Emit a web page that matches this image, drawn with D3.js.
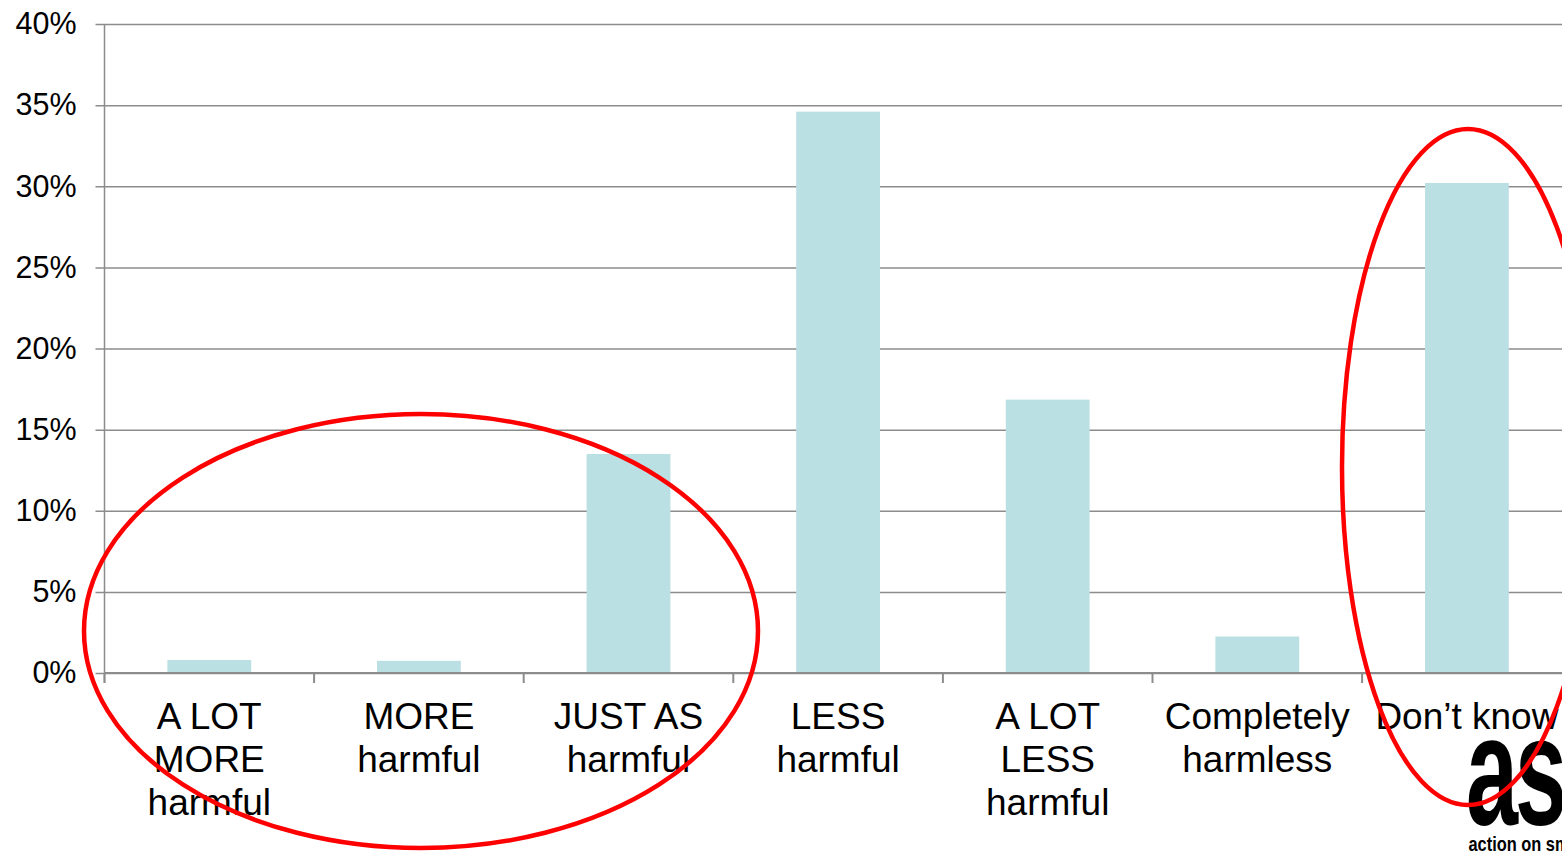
<!DOCTYPE html>
<html>
<head>
<meta charset="utf-8">
<script src="https://cdn.jsdelivr.net/npm/d3@7"></script>
<style>
  body { margin: 0; background: #fff; overflow: hidden; }
  text { font-family: "Liberation Sans", Arial, sans-serif; }
</style>
</head>
<body>
<div id="container"></div>
<script>
/* DATA */
const categories = [
  ["A LOT", "MORE", "harmful"],
  ["MORE", "harmful"],
  ["JUST AS", "harmful"],
  ["LESS", "harmful"],
  ["A LOT", "LESS", "harmful"],
  ["Completely", "harmless"],
  ["Don\u2019t know"]
]
const values = [0.8, 0.75, 13.5, 34.6, 16.85, 2.25, 30.2]
const yTicks = [0, 5, 10, 15, 20, 25, 30, 35, 40]

/* CONSTANTS */
const width = 1562,
  height = 853,
  margin = { top: 24, bottom: 180, left: 104.5, right: 0 },
  bandW = 209.6,
  gridColor = "#8c8c8c",
  barColor = "#bbe0e3"

const svg = d3.select("#container")
  .append("svg")
  .attr("width", width)
  .attr("height", height)

// scales
const xScale = d3.scaleBand()
  .domain(d3.range(categories.length))
  .range([margin.left, margin.left + bandW * categories.length])
  .paddingInner(0.6)
  .paddingOuter(0.3)

const yScale = d3.scaleLinear()
  .domain([0, 40])
  .range([673, margin.top])

// gridlines + y axis
const yAxis = d3.axisLeft(yScale)
  .tickValues(yTicks)
  .tickFormat(d => d + "%")
  .tickSize(-(width - margin.left))
  .tickSizeOuter(0)
  .tickPadding(28)

const gy = svg.append("g")
  .attr("transform", `translate(${margin.left},0)`)
  .call(yAxis)
gy.select(".domain").remove()
gy.selectAll(".tick line")
  .attr("x1", -9)
  .attr("stroke", gridColor)
  .attr("stroke-width", 1.5)
gy.selectAll(".tick text")
  .attr("font-size", 30.5)
  .attr("fill", "#000")
  .attr("font-family", "Liberation Sans, Arial, sans-serif")

svg.append("line")
  .attr("x1", margin.left).attr("x2", margin.left)
  .attr("y1", yScale(40)).attr("y2", yScale(0) + 10)
  .attr("stroke", gridColor)
  .attr("stroke-width", 1.5)

// bars
svg.selectAll(".bar")
  .data(values)
  .join("rect")
  .attr("class", "bar")
  .attr("x", (d, i) => xScale(i))
  .attr("width", xScale.bandwidth())
  .attr("y", d => yScale(d))
  .attr("height", d => yScale(0) - yScale(d))
  .attr("fill", barColor)

// x axis line + ticks between categories
svg.append("line")
  .attr("x1", margin.left).attr("x2", width)
  .attr("y1", yScale(0)).attr("y2", yScale(0))
  .attr("stroke", gridColor)
  .attr("stroke-width", 2)

svg.selectAll(".xtick")
  .data(d3.range(categories.length + 1))
  .join("line")
  .attr("class", "xtick")
  .attr("x1", i => margin.left + i * bandW)
  .attr("x2", i => margin.left + i * bandW)
  .attr("y1", yScale(0))
  .attr("y2", yScale(0) + 10)
  .attr("stroke", gridColor)
  .attr("stroke-width", 2)

// category labels
const labels = svg.selectAll(".cat")
  .data(categories)
  .join("text")
  .attr("class", "cat")
  .attr("text-anchor", "middle")
  .attr("font-size", 37)
  .attr("fill", "#000")
  .attr("x", (d, i) => xScale(i) + xScale.bandwidth() / 2)
  .attr("y", 729)

labels.selectAll("tspan")
  .data(d => d)
  .join("tspan")
  .attr("x", function() { return d3.select(this.parentNode).attr("x") })
  .attr("dy", (d, i) => i === 0 ? 0 : 43)
  .text(d => d)

// logo
const logo = svg.append("g").attr("transform", "translate(1466,0)")
logo.append("text")
  .attr("x", 0).attr("y", 824)
  .attr("font-family", "DejaVu Sans Condensed, DejaVu Sans, sans-serif")
  .attr("font-weight", "bold")
  .attr("font-size", 156)
  .attr("transform", "scale(0.6,1)")
  .attr("fill", "#000")
  .attr("letter-spacing", -5)
  .text("as")
logo.append("text")
  .attr("x", 3).attr("y", 851)
  .attr("font-family", "DejaVu Sans Condensed, DejaVu Sans, sans-serif")
  .attr("font-weight", "bold")
  .attr("font-size", 20)
  .attr("transform", "scale(0.82,1)")
  .attr("fill", "#000")
  .text("action on smoking")

// red highlight ellipses
svg.append("ellipse")
  .attr("cx", 421).attr("cy", 631)
  .attr("rx", 337).attr("ry", 217)
  .attr("fill", "none")
  .attr("stroke", "#ff0000")
  .attr("stroke-width", 4.5)

svg.append("ellipse")
  .attr("cx", 1468).attr("cy", 467)
  .attr("rx", 126).attr("ry", 338)
  .attr("fill", "none")
  .attr("stroke", "#ff0000")
  .attr("stroke-width", 4.5)
</script>
</body>
</html>
